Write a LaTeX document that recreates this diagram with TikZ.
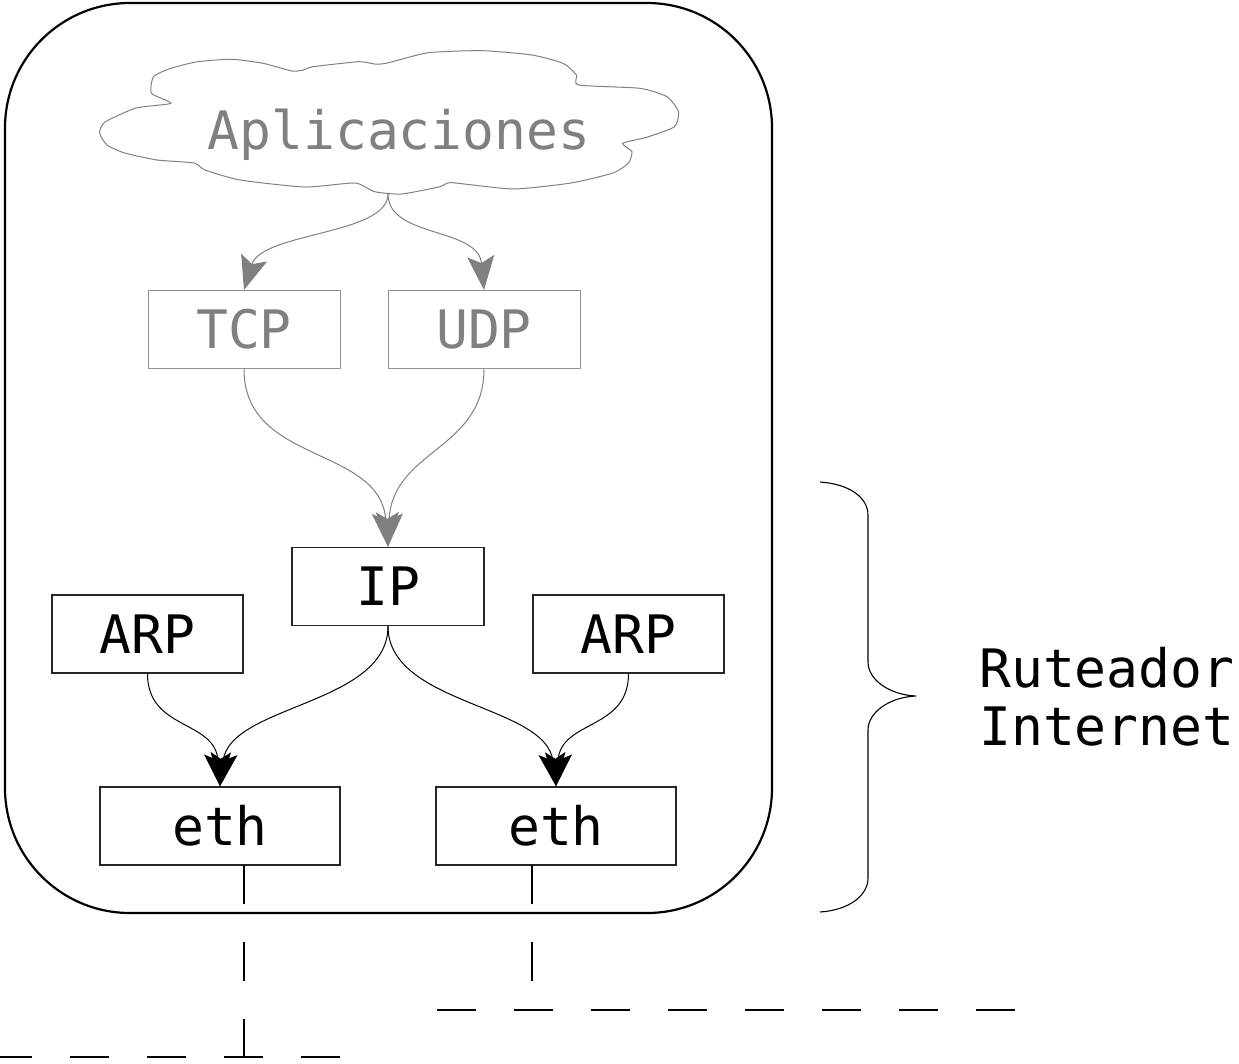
\documentclass[tikz,border=0pt]{standalone}
\usepackage{fontspec}
\newfontfamily\dvm{DejaVu Sans Mono}
\usetikzlibrary{arrows.meta}
\definecolor{fg}{HTML}{808080}
\begin{document}
\begin{tikzpicture}[x=1pt,y=-1pt,
  every node/.style={font=\dvm\fontsize{53}{58}\selectfont, inner sep=0pt},
  blk/.style={draw=black!85, line width=1.3pt, minimum height=78pt},
  gbox/.style={draw=fg!85, line width=1pt, text=fg, minimum width=192pt, minimum height=78pt},
  garrow/.style={draw=fg, line width=1pt, -{Stealth[length=34pt,width=27pt,inset=7pt]}},
  barrow/.style={draw=black, line width=1pt, -{Stealth[length=33pt,width=27pt,inset=7pt]}},
  bus/.style={line width=2pt, dash pattern=on 39pt off 38pt}]
\useasboundingbox (0,0) rectangle (1239,1063);

% outer router frame
\draw[line width=2.2pt, rounded corners=125pt] (5,3) rectangle (772,913);

% cloud
\draw[fg, line width=1pt] plot[smooth cycle, tension=0.35] coordinates {
 (153.5,76.7) (151.5,93.3) (170.8,103.3) (136,108) (105,122) (99.6,133)
 (107,145) (124.6,153) (157,160) (194,163) (205,170) (240,180) (305,187)
 (355,183) (374.6,191.7) (401.5,194) (440,186.7) (451.5,182.7) (513,189)
 (571,183) (613,173) (628.5,163) (632,151.7) (622.7,143.3) (647.7,137)
 (674.6,126.7) (678.5,111.7) (667,96.7) (640,88.3) (578.5,85) (576.5,75)
 (563,63.3) (532,55) (482,50.7) (428.5,52.7) (386,63.3) (374.6,64)
 (359,61.7) (313,66.7) (303.5,70) (292,71) (263,63.3) (232,59.3)
 (197.7,61.7) (170.8,68.3)};
\node[text=fg, anchor=base] (app) at (399,149) {Aplicaciones};
\coordinate (cloudbot) at (388,194);

% boxes
\node[gbox] (tcp) at (244,329.5) {TCP};
\node[gbox] (udp) at (484,329.5) {UDP};
\node[blk, minimum width=192pt] (ip) at (388,586.5) {IP};
\node[blk, minimum width=191pt] (arpL) at (147.5,634) {ARP};
\node[blk, minimum width=191pt] (arpR) at (628.5,634) {ARP};
\node[blk, minimum width=240pt] (ethL) at (220,826) {eth};
\node[blk, minimum width=240pt] (ethR) at (556,826) {eth};

% gray arrows
\draw[garrow] (cloudbot) .. controls +(0,41) and +(18,-58) .. (tcp.north);
\draw[garrow] (cloudbot) .. controls +(0,44) and +(-6,-63) .. (udp.north);
\draw[garrow] (tcp.south) .. controls +(0,96) and +(-8,-102) .. (ip.north);
\draw[garrow] (udp.south) .. controls +(0,81) and +(4,-97) .. (ip.north);

% black arrows
\draw[barrow] (ip.south) .. controls +(0,79) and +(10,-82) .. (ethL.north);
\draw[barrow] (arpL.south) .. controls +(0,57) and +(-5,-67) .. (ethL.north);
\draw[barrow] (ip.south) .. controls +(0,79) and +(-10,-82) .. (ethR.north);
\draw[barrow] (arpR.south) .. controls +(0,57) and +(5,-67) .. (ethR.north);

% network links
\coordinate (ethLport) at (244,865);
\coordinate (ethRport) at (532,865);
\coordinate (busLtap) at (244,1057);
\coordinate (busRtap) at (532,1010);
\coordinate (busLa) at (340,1057);
\coordinate (busLb) at (0,1057);
\coordinate (busRa) at (437,1010);
\coordinate (busRb) at (1016,1010);
\draw[bus] (ethLport) -- (busLtap);
\draw[bus] (ethRport) -- (busRtap);
\draw[bus] (busLa) -- (busLb);
\draw[bus] (busRa) -- (busRb);

% brace and label
\draw[line width=1.1pt] (820,482) .. controls (850,484) and (868,498) .. (868,515)
  -- (868,662) .. controls (868,680) and (890,695) .. (916,696)
  .. controls (890,697) and (868,712) .. (868,730)
  -- (868,878) .. controls (868,895) and (850,910) .. (820,912);
\node[align=left, anchor=west] (router) at (979,697) {Ruteador\\Internet};
\end{tikzpicture}
\end{document}
